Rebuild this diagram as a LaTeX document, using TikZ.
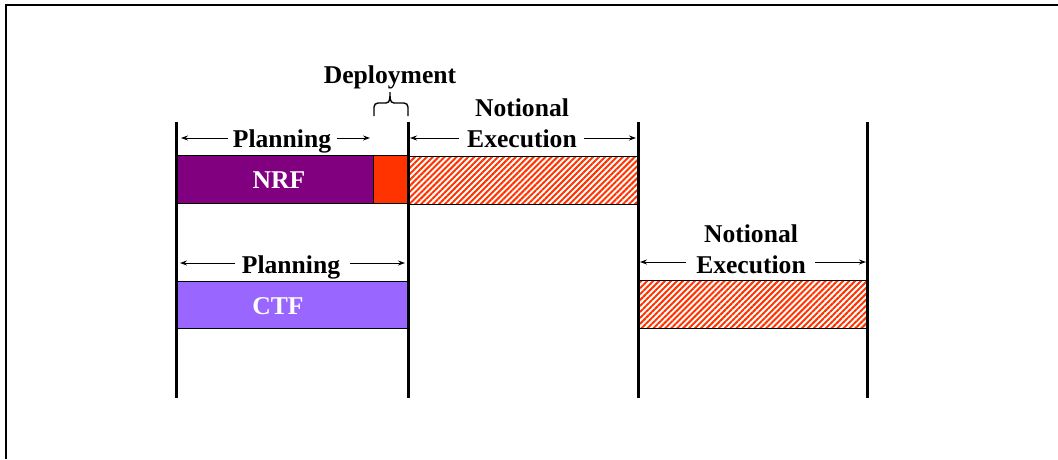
\documentclass[tikz,border=0pt]{standalone}
\usepackage{fontspec}
\setmainfont{Liberation Serif}
\usetikzlibrary{patterns.meta,arrows.meta,calc}
\definecolor{nrfpurple}{HTML}{800080}
\definecolor{deployred}{HTML}{FF3300}
\definecolor{ctfviolet}{HTML}{9966FF}
\tikzset{
  lbl/.style={font=\fontsize{25.6}{31}\selectfont\bfseries, inner sep=0pt, anchor=base},
  bar/.style={draw=black, line width=1pt, anchor=north west, inner sep=0pt},
  hatch/.style={bar, pattern={Lines[angle=45,distance=4.2pt,line width=2pt]}, pattern color=deployred},
  vline/.style={line width=3pt},
  arr/.style={line width=1pt, -{Stealth[length=7pt,width=5pt]}},
  bracestyle/.style={line width=1.4pt}
}
\begin{document}
\begin{tikzpicture}[x=1pt,y=-1pt]
\useasboundingbox (0,0) rectangle (1058,459);
\draw[line width=2.5pt] (6,459) -- (6,5) -- (1058,5);

% bars
\node[bar, fill=nrfpurple, minimum width=197pt, minimum height=48pt] (nrf) at (176,155) {};
\node[bar, fill=deployred, minimum width=35pt, minimum height=48pt] (dep) at (373,155) {};
\node[hatch, minimum width=230pt, minimum height=48pt] (ex1) at (408,155) {};
\node[bar, fill=ctfviolet, minimum width=232pt, minimum height=47pt] (ctf) at (176,281) {};
\node[hatch, minimum width=229pt, minimum height=48pt] (ex2) at (638,280) {};
\node[lbl, text=white] (nrflbl) at (279,188) {NRF};
\node[lbl, text=white] (ctflbl) at (278,314) {CTF};

% vertical lines
\coordinate (v1t) at (176,122); \coordinate (v1b) at (176,398);
\coordinate (v2t) at (408,122); \coordinate (v2b) at (408,398);
\coordinate (v3t) at (638,122); \coordinate (v3b) at (638,398);
\coordinate (v4t) at (867,122); \coordinate (v4b) at (867,398);
\draw[vline] (v1t) -- (v1b);
\draw[vline] (v2t) -- (v2b);
\draw[vline] (v3t) -- (v3b);
\draw[vline] (v4t) -- (v4b);

% deployment brace
\node[lbl] (deplbl) at (390,83) {Deployment};
\draw[bracestyle] (374,116) -- (374,107) to[out=90,in=180] (378,103) -- (386,103)
  to[out=0,in=270] (390,92) to[out=270,in=180] (394,103) -- (404,103)
  to[out=0,in=90] (408,107) -- (408,116);

% NRF planning
\node[lbl] (plan1) at (282,147) {Planning};
\coordinate (p1l) at (181,138); \coordinate (p1r) at (370,138);
\draw[arr] ([xshift=-5pt,yshift=9pt]plan1.base west) -- (p1l);
\draw[arr] ([xshift=6pt,yshift=9pt]plan1.base east) -- (p1r);

% NRF notional execution
\node[lbl] (not1) at (522,116) {Notional};
\node[lbl] (exe1) at (522,147) {Execution};
\coordinate (e1l) at (410,138); \coordinate (e1r) at (636,138);
\draw[arr] ([xshift=-8pt,yshift=9pt]exe1.base west) -- (e1l);
\draw[arr] ([xshift=7pt,yshift=9pt]exe1.base east) -- (e1r);

% CTF planning
\node[lbl] (plan2) at (291,273) {Planning};
\coordinate (p2l) at (180,263); \coordinate (p2r) at (405,263);
\draw[arr] ([xshift=-7pt,yshift=10pt]plan2.base west) -- (p2l);
\draw[arr] ([xshift=10pt,yshift=10pt]plan2.base east) -- (p2r);

% CTF notional execution
\node[lbl] (not2) at (751,242) {Notional};
\node[lbl] (exe2) at (751,273) {Execution};
\coordinate (e2l) at (640,262); \coordinate (e2r) at (866,262);
\draw[arr] ([xshift=-10pt,yshift=11pt]exe2.base west) -- (e2l);
\draw[arr] ([xshift=9pt,yshift=11pt]exe2.base east) -- (e2r);
\end{tikzpicture}
\end{document}
